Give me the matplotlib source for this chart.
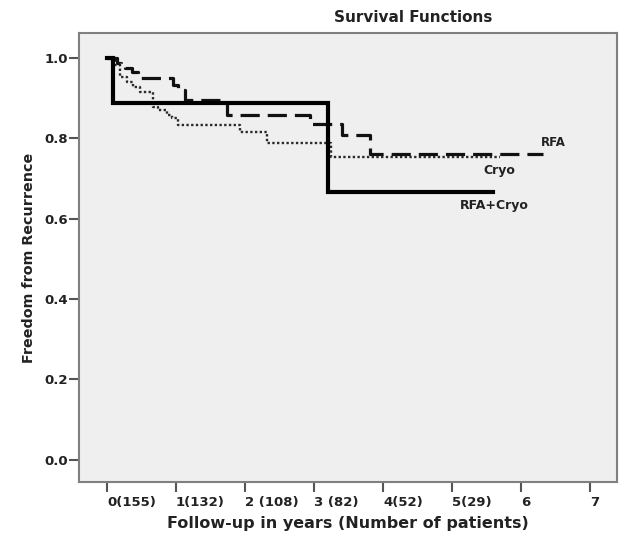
import matplotlib
matplotlib.use("Agg")
import matplotlib.pyplot as plt
import matplotlib.transforms as mtransforms

plt.rcParams['font.family'] = ['DejaVu Sans']
plt.rcParams['font.weight'] = 'bold'
plt.rcParams['axes.labelweight'] = 'bold'

# Kaplan-Meier step data (years, freedom from recurrence)
rfa_t = [0, 0.15, 0.2, 0.26, 0.36, 0.45, 0.96, 1.03, 1.13, 1.74, 2.94, 3.4, 3.81, 6.32]
rfa_s = [1.0, 0.987, 0.982, 0.975, 0.965, 0.95, 0.933, 0.92, 0.895, 0.858, 0.836, 0.808, 0.760, 0.760]

cryo_t = [0, 0.12, 0.19, 0.29, 0.38, 0.48, 0.67, 0.74, 0.87, 0.94, 1.03, 1.93, 2.32, 3.25, 5.7]
cryo_s = [1.0, 0.983, 0.953, 0.94, 0.928, 0.915, 0.878, 0.871, 0.858, 0.851, 0.833, 0.816, 0.789, 0.754, 0.754]

combo_t = [0, 0.09, 3.2, 5.6]
combo_s = [1.0, 0.889, 0.667, 0.667]

xticks = [0, 1, 2, 3, 4, 5, 6, 7]
xlabels = ["0(155)", "1(132)", "2 (108)", "3 (82)", "4(52)", "5(29)", "6", "7"]
yticks = [0.0, 0.2, 0.4, 0.6, 0.8, 1.0]

fig = plt.figure(figsize=(6.2, 5.38), dpi=100)
ax = fig.add_axes([0.1274, 0.1041, 0.8676, 0.8346])
ax.set_facecolor('#efefef')

ax.plot(cryo_t, cryo_s, drawstyle='steps-post', color='#2a2a2a', lw=1.7, linestyle=(0, (1, 1)))
ax.plot(rfa_t, rfa_s, drawstyle='steps-post', color='#111111', lw=2.3, linestyle=(0, (6, 2.5)))
ax.plot(combo_t, combo_s, drawstyle='steps-post', color='black', lw=3.0, solid_joinstyle='miter')

ax.text(6.29, 0.789, "RFA", fontsize=8.5, va='center', ha='left', color='#222222')
ax.text(5.45, 0.721, "Cryo", fontsize=9, va='center', ha='left', color='#222222')
ax.text(5.12, 0.634, "RFA+Cryo", fontsize=9, va='center', ha='left', color='#222222')

ax.set_xlim(-0.406, 7.39)
ax.set_ylim(-0.055, 1.062)
ax.set_yticks(yticks)
ax.set_yticklabels(["%.1f" % v for v in yticks], fontsize=9.5, color='#222222')
ax.set_xticks(xticks)
ax.set_xticklabels(xlabels, fontsize=9.5, color='#222222')
shift = mtransforms.ScaledTranslation(-4 / 100, 0, fig.dpi_scale_trans)
for lab in ax.get_xticklabels():
    lab.set_horizontalalignment('left')
    lab.set_transform(lab.get_transform() + shift)

ax.tick_params(direction='out', length=7, width=1.5, color='#555555')
ax.tick_params(axis='y', pad=1)
ax.tick_params(axis='x', pad=3)
for sp in ax.spines.values():
    sp.set_color('#808080')
    sp.set_linewidth(1.5)

ax.set_xlabel("Follow-up in years (Number of patients)", fontsize=11.5, color='#222222', labelpad=5)
ax.set_ylabel("Freedom from Recurrence", fontsize=10.3, color='#222222', labelpad=6)
fig.text(413 / 620, 1 - 18 / 538, "Survival Functions", fontsize=11, ha='center', va='center', color='#222222')

fig.savefig("out.png", dpi=100)
